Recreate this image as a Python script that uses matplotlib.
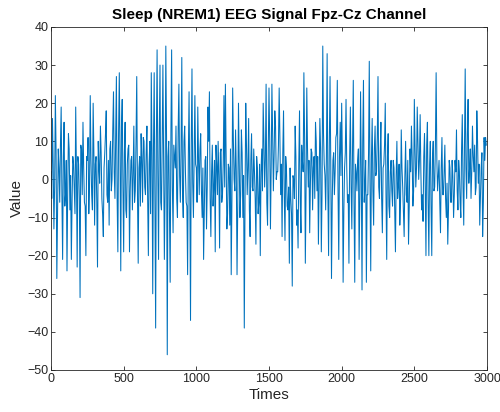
import numpy as np
import matplotlib
matplotlib.use('Agg')
import matplotlib.pyplot as plt

# EEG samples.
# spike_values: the swings seen at samples 0, 10, 20, ...
# band_values: the dense middle band at samples 5, 15, 25, ...
sample_step = 5
spike_values = [
    2, 16, -13, 22, -26, 8, -6, 19, -21, 15,
    -4, -24, 12, -8, -21, 6, -3, 19, -23, 4,
    -31, 8, 15, -6, -20, 5, -9, 22, -4, 20,
    -12, 6, -23, 3, 14, -5, -15, 7, 18, -6,
    -12, 10, 0, 23, -5, 27, -19, 28, -24, 21,
    -19, 15, -10, 8, -19, 5, -8, 14, -3, 27,
    -22, 6, 12, -6, 10, -4, 14, -20, 10, 28,
    -30, 28, -39, 34, -21, 30, -8, 30, -21, 35,
    -46, 10, -27, 34, -14, 6, 14, -10, 25, -6,
    32, -10, 14, -6, -25, 23, -37, 29, -10, 22,
    3, 19, -4, 12, -10, -21, 5, -13, 19, 23,
    -15, 9, -2, -19, 4, 10, -18, 8, -4, 22,
    25, -13, 4, -12, -25, 24, 0, 13, -25, 20,
    -10, 13, -10, -39, 20, -4, 16, -15, 12, -3,
    2, -17, 3, -6, -20, 8, 20, -2, 25, -12,
    24, -13, 25, -3, 18, 0, 2, 24, -4, -15,
    18, -16, 3, -8, -22, -5, -28, 0, 14, -12,
    -18, 18, -14, 5, 28, -22, 24, -2, -14, 8,
    -8, 6, 15, -3, -17, 16, -19, 35, 4, -8,
    33, -20, 27, -26, 5, -4, 11, 26, -21, 15,
    20, -27, 3, 21, -6, -22, 19, -13, 26, -27,
    2, 5, -21, 23, -29, 26, -2, -27, -4, 31,
    -24, 16, -12, 14, 2, 27, -5, 15, -14, 4,
    20, -21, 12, -10, 5, -7, 3, -19, 10, -2,
    -12, 13, -2, -15, 10, -6, -17, 8, 14, -7,
    21, -2, 19, 0, 17, -8, -11, 12, -20, 15,
    -20, 10, -20, 10, -2, 28, -3, 5, -14, 11,
    -4, 9, -10, -17, 5, -6, 5, -10, 5, 13,
    -8, 2, -10, 17, -12, 29, -5, 21, 3, -5,
    14, 2, -4, 18, -1, -12, 3, -15, 11, 11,
]
band_values = [
    -5, 4, -2, 7, -8, 3, 9, -4, 6, -7,
    5, -3, 8, 1, -6, 4, -9, 2, 6, -5,
    9, -4, 3, -7, 6, 11, -2, 5, -8, 7,
    4, -6, 10, -1, 7, -9, 3, 12, -4, 5,
    8, -3, 13, 2, 10, -5, 12, 6, 14, -2,
    7, -8, 4, 9, -3, 6, 1, -6, 10, -4,
    3, -7, 5, 11, -2, 7, -5, 4, -9, 6,
    8, -4, 10, 2, 12, -6, 9, 4, -3, 11,
    6, -8, 12, -2, 9, 3, -5, 13, 1, 8,
    -4, 10, 2, -7, 6, -3, 9, -1, 7, 4,
    -6, 5, 8, -3, 3, -8, 6, -2, 10, -5,
    2, -7, 5, 9, -4, 1, 7, -6, 4, -2,
    6, -9, 3, 8, -5, 10, -3, 2, -7, 5,
    -4, 7, 1, -6, 9, 3, -8, 5, -2, 8,
    -5, 6, -9, 4, 2, -3, 10, 5, -6, 8,
    10, 3, 12, 6, 14, 2, 9, 11, 4, 7,
    -4, 6, -7, -2, 3, -9, 1, -5, 6, -8,
    4, -6, 9, 2, 11, -3, 8, 5, -1, 7,
    3, -5, 10, 6, -2, 8, -4, 12, 1, 6,
    -3, 9, 4, -6, 7, 2, 12, -3, 6, 1,
    5, -8, 7, 3, -4, 6, -2, 9, -6, 4,
    -3, 8, -5, 2, 10, -6, 5, -4, 7, -1,
    6, -3, 8, 1, 11, -2, 7, -5, 3, 9,
    -4, 6, -7, 2, -3, 5, -8, 1, -5, 4,
    -6, 3, -9, 1, -4, 5, -7, 2, 6, -3,
    8, 3, 10, 5, 2, -4, 6, -2, 9, -6,
    4, -7, 6, -3, 9, 5, 1, -6, 3, -4,
    2, -5, -1, -8, 3, -6, 1, -4, 2, -3,
    5, -6, 8, -2, 10, 3, 12, -1, 8, 2,
    6, 9, -2, 10, 4, -5, 7, -6, 5, 9,
]
eeg_values = np.column_stack([spike_values, band_values]).ravel()
times = np.arange(len(eeg_values)) * sample_step

x_ticks = [0, 500, 1000, 1500, 2000, 2500, 3000]
y_ticks = [-50, -40, -30, -20, -10, 0, 10, 20, 30, 40]

plt.rcParams['font.family'] = ['Liberation Sans', 'DejaVu Sans']
text_color = '#262626'

fig = plt.figure(figsize=(5, 4.12), dpi=100)
ax = fig.add_axes([0.102, 0.102, 0.872, 0.8325])

ax.plot(times, eeg_values, color='#0072BD', linewidth=0.75)

ax.set_xlim(0, 3000)
ax.set_ylim(-50, 40)
ax.set_xticks(x_ticks)
ax.set_yticks(y_ticks)
ax.tick_params(direction='in', top=True, right=True, length=3, width=0.6,
               labelsize=9, colors=text_color, pad=2)
for spine in ax.spines.values():
    spine.set_color(text_color)
    spine.set_linewidth(0.6)

ax.set_title('Sleep (NREM1) EEG Signal Fpz-Cz Channel', fontsize=11,
             fontweight='bold', color='black', pad=6)
ax.set_xlabel('Times', fontsize=11, color=text_color, labelpad=2)
ax.set_ylabel('Value', fontsize=11, color=text_color, labelpad=2)

plt.savefig('out.png', dpi=100)
plt.close()
